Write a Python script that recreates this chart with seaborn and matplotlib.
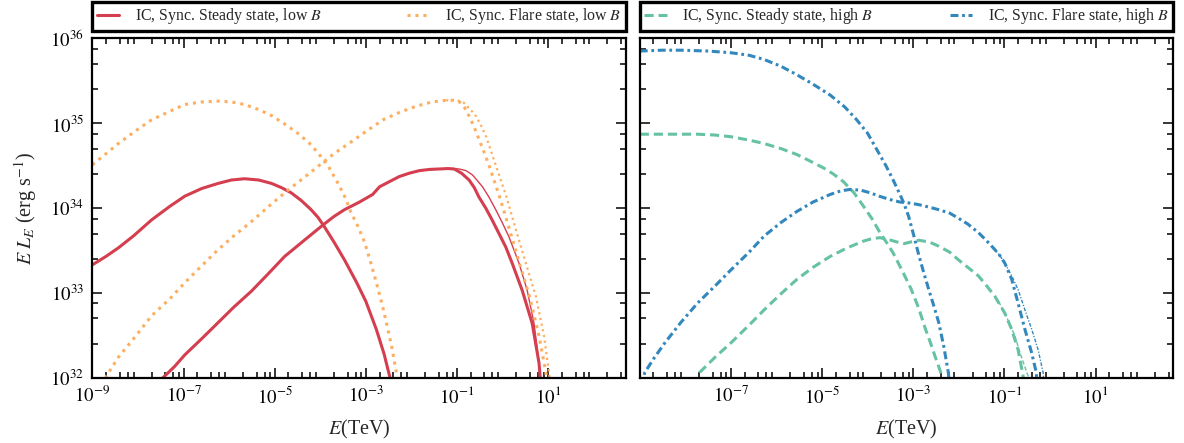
import numpy as np
import pandas as pd
import seaborn as sns
import matplotlib.pyplot as plt
from matplotlib.lines import Line2D
from matplotlib.ticker import LogLocator, NullFormatter

# Values: log10(E / TeV) and log10(E L_E / erg s^-1)

# left panel, low B
red_sync_logE = [-9.0, -8.7, -8.43, -8.1, -7.70, -7.3, -6.97, -6.6, -6.24, -5.95, -5.66, -5.35, -5.07, -4.85, -4.64,
                 -4.42, -4.20, -4.05, -3.91, -3.70, -3.47, -3.20, -3.00, -2.77, -2.60, -2.47, -2.44]
red_sync_logL = [33.33, 33.43, 33.53, 33.67, 33.86, 34.02, 34.14, 34.23, 34.29, 34.33, 34.345, 34.33, 34.29, 34.24, 34.18,
                 34.09, 33.98, 33.89, 33.78, 33.60, 33.39, 33.12, 32.90, 32.57, 32.28, 32.0, 31.9]

red_ic_logE = [-7.55, -7.45, -7.2, -6.97, -6.6, -6.24, -5.9, -5.51, -5.15, -4.78, -4.35, -3.94, -3.7, -3.47, -3.14, -2.85,
               -2.70, -2.45, -2.27, -2.05, -1.83, -1.6, -1.39, -1.2, -1.06, -0.9, -0.735, -0.62, -0.52, -0.37, -0.23,
               -0.08, 0.07, 0.21, 0.43, 0.65, 0.80, 0.84]
red_ic_logL = [31.9, 32.0, 32.13, 32.27, 32.46, 32.65, 32.83, 33.02, 33.22, 33.43, 33.62, 33.80, 33.90, 33.98, 34.07, 34.16,
               34.25, 34.32, 34.37, 34.41, 34.44, 34.455, 34.46, 34.465, 34.46, 34.41, 34.33, 34.24, 34.13, 34.0, 33.86,
               33.70, 33.54, 33.35, 33.03, 32.64, 32.17, 31.9]

red_ic_thin_logE = [-2.27, -1.83, -1.39, -1.1, -0.95, -0.8, -0.66, -0.44, -0.3, -0.15, 0.0, 0.14, 0.36, 0.54, 0.69, 0.80, 0.84]
red_ic_thin_logL = [34.37, 34.44, 34.46, 34.465, 34.46, 34.44, 34.39, 34.25, 34.13, 33.98, 33.82, 33.66, 33.35, 33.03, 32.64, 32.17, 31.9]

orange_sync_logE = [-9.0, -8.7, -8.43, -8.05, -7.70, -7.3, -6.97, -6.6, -6.24, -5.95, -5.66, -5.35, -5.07, -4.78, -4.49,
                    -4.25, -4.05, -3.82, -3.61, -3.45, -3.32, -3.17, -3.03, -2.9, -2.77, -2.65, -2.55, -2.43, -2.33, -2.30]
orange_sync_logL = [34.51, 34.64, 34.76, 34.91, 35.04, 35.14, 35.22, 35.25, 35.26, 35.25, 35.22, 35.16, 35.09, 34.99, 34.88,
                    34.77, 34.65, 34.49, 34.29, 34.12, 33.94, 33.78, 33.60, 33.37, 33.12, 32.88, 32.65, 32.36, 32.06, 31.9]

orange_ic_logE = [-8.75, -8.69, -8.43, -8.05, -7.70, -7.3, -6.97, -6.6, -6.24, -5.9, -5.51, -5.15, -4.78, -4.4, -4.05, -3.7,
                  -3.32, -2.95, -2.62, -2.25, -1.89, -1.55, -1.24, -1.08, -0.94, -0.83, -0.73, -0.62, -0.51, -0.40, -0.29,
                  -0.07, 0.15, 0.37, 0.59, 0.80, 0.95, 0.98]
orange_ic_logL = [31.9, 32.02, 32.24, 32.49, 32.73, 32.93, 33.12, 33.32, 33.51, 33.67, 33.84, 34.01, 34.18, 34.34, 34.49, 34.64,
                  34.78, 34.92, 35.04, 35.13, 35.20, 35.25, 35.27, 35.27, 35.25, 35.18, 35.08, 34.95, 34.80, 34.65, 34.49,
                  34.14, 33.75, 33.35, 32.96, 32.49, 32.06, 31.9]

orange_ic_thin_logE = [-1.24, -1.0, -0.85, -0.72, -0.58, -0.47, -0.36, -0.14, 0.08, 0.29, 0.51, 0.73, 0.91, 1.02, 1.05]
orange_ic_thin_logL = [35.27, 35.27, 35.24, 35.17, 35.08, 34.97, 34.84, 34.49, 34.14, 33.75, 33.35, 32.96, 32.49, 32.06, 31.9]

# right panel, high B
blue_sync_logE = [-9.0, -8.5, -8.09, -7.5, -7.0, -6.6, -6.27, -5.9, -5.55, -5.2, -4.82, -4.5, -4.24, -4.0, -3.80, -3.6,
                  -3.44, -3.30, -3.20, -3.10, -2.99, -2.88, -2.77, -2.66, -2.55, -2.44, -2.33, -2.23, -2.20]
blue_sync_logL = [35.85, 35.86, 35.86, 35.85, 35.83, 35.80, 35.75, 35.67, 35.57, 35.46, 35.33, 35.19, 35.04, 34.88, 34.69,
                  34.50, 34.33, 34.17, 34.05, 33.90, 33.68, 33.45, 33.24, 33.04, 32.85, 32.65, 32.37, 32.06, 31.9]

blue_ic_logE = [-8.95, -8.89, -8.7, -8.45, -8.1, -7.73, -7.35, -7.0, -6.6, -6.27, -5.9, -5.55, -5.2, -4.82, -4.6, -4.38,
                -4.15, -3.95, -3.75, -3.51, -3.29, -3.1, -2.88, -2.65, -2.44, -2.2, -2.01, -1.8, -1.57, -1.4, -1.21,
                -1.1, -0.99, -0.84, -0.70, -0.55, -0.40, -0.30, -0.28]
blue_ic_logL = [31.9, 32.06, 32.22, 32.41, 32.65, 32.88, 33.08, 33.27, 33.48, 33.67, 33.83, 33.96, 34.07, 34.16, 34.20, 34.22,
                34.21, 34.18, 34.14, 34.10, 34.07, 34.06, 34.04, 34.01, 33.98, 33.94, 33.88, 33.81, 33.71, 33.62, 33.51,
                33.44, 33.35, 33.16, 32.88, 32.57, 32.29, 32.06, 31.9]

blue_ic_thin_logE = [-1.21, -1.1, -0.99, -0.84, -0.70, -0.55, -0.40, -0.26, -0.15, -0.13]
blue_ic_thin_logL = [33.51, 33.44, 33.35, 33.20, 33.04, 32.80, 32.57, 32.33, 32.06, 31.9]

green_sync_logE = [-9.0, -8.3, -7.73, -7.35, -7.0, -6.6, -6.27, -5.9, -5.55, -5.25, -4.96, -4.75, -4.53, -4.3, -4.09, -3.9,
                   -3.73, -3.58, -3.44, -3.25, -3.05, -2.88, -2.73, -2.62, -2.52, -2.44, -2.37, -2.34]
green_sync_logL = [34.87, 34.87, 34.87, 34.86, 34.84, 34.80, 34.76, 34.70, 34.63, 34.55, 34.47, 34.40, 34.31, 34.18, 34.02, 33.87,
                   33.71, 33.59, 33.47, 33.27, 33.05, 32.82, 32.57, 32.41, 32.25, 32.13, 32.02, 31.9]

green_ic_logE = [-7.78, -7.69, -7.35, -7.0, -6.6, -6.27, -5.9, -5.55, -5.2, -4.82, -4.45, -4.09, -3.9, -3.73, -3.55, -3.36,
                 -3.2, -3.05, -2.88, -2.65, -2.44, -2.2, -2.01, -1.8, -1.57, -1.4, -1.21, -0.99, -0.84, -0.70, -0.59, -0.57]
green_ic_logL = [31.9, 32.06, 32.24, 32.41, 32.62, 32.80, 32.99, 33.16, 33.30, 33.43, 33.53, 33.61, 33.64, 33.65, 33.63, 33.60,
                 33.58, 33.60, 33.62, 33.60, 33.55, 33.48, 33.39, 33.30, 33.20, 33.09, 32.96, 32.76, 32.57, 32.33, 32.02, 31.9]

green_ic_thin_logE = [-1.21, -1.1, -0.99, -0.88, -0.77, -0.63, -0.48, -0.46]
green_ic_thin_logL = [32.96, 32.87, 32.76, 32.63, 32.49, 32.25, 32.02, 31.9]

x_tick_exps = [-9, -7, -5, -3, -1, 1]
y_tick_exps = [32, 33, 34, 35, 36]

RED = "#d53e4f"
ORANGE = "#fdae61"
GREEN = "#66c2a5"
BLUE = "#3288bd"

sns.set_style("ticks")
plt.rcParams["font.family"] = ["Liberation Serif", "DejaVu Serif"]
plt.rcParams["mathtext.fontset"] = "stix"
plt.rcParams["font.size"] = 12
plt.rcParams["axes.linewidth"] = 1.6
plt.rcParams["axes.edgecolor"] = "black"


def draw(ax, logE, logL, color, lw, ls):
    df = pd.DataFrame({"E": np.power(10.0, logE), "L": np.power(10.0, logL)})
    sns.lineplot(data=df, x="E", y="L", ax=ax, color=color, lw=lw,
                 linestyle=ls, sort=False, estimator=None)


fig, (ax_l, ax_r) = plt.subplots(1, 2, figsize=(11.84, 4.43), dpi=100)
fig.subplots_adjust(left=0.078, right=0.9907, bottom=0.1474, top=0.9135, wspace=0.0265)

dotted = (0, (1, 1.6))
dashed = (0, (3, 1.6))
dashdot = (0, (2.6, 1.2, 0.9, 1.2))

for ax in (ax_l, ax_r):
    ax.set_xscale("log")
    ax.set_yscale("log")

draw(ax_l, red_sync_logE, red_sync_logL, RED, 2.2, "-")
draw(ax_l, red_ic_logE, red_ic_logL, RED, 2.2, "-")
draw(ax_l, red_ic_thin_logE, red_ic_thin_logL, RED, 1.0, "-")
draw(ax_l, orange_sync_logE, orange_sync_logL, ORANGE, 2.2, dotted)
draw(ax_l, orange_ic_logE, orange_ic_logL, ORANGE, 2.2, dotted)
draw(ax_l, orange_ic_thin_logE, orange_ic_thin_logL, ORANGE, 1.6, dotted)

draw(ax_r, green_sync_logE, green_sync_logL, GREEN, 2.2, dashed)
draw(ax_r, green_ic_logE, green_ic_logL, GREEN, 2.2, dashed)
draw(ax_r, green_ic_thin_logE, green_ic_thin_logL, GREEN, 1.0, dashed)
draw(ax_r, blue_sync_logE, blue_sync_logL, BLUE, 2.2, dashdot)
draw(ax_r, blue_ic_logE, blue_ic_logL, BLUE, 2.2, dashdot)
draw(ax_r, blue_ic_thin_logE, blue_ic_thin_logL, BLUE, 1.0, dashdot)

x_ticks = [10.0 ** e for e in x_tick_exps]
x_labels = [r"$10^{%d}$" % e for e in x_tick_exps]
y_ticks = [10.0 ** e for e in y_tick_exps]
y_labels = [r"$10^{%d}$" % e for e in y_tick_exps]

for ax in (ax_l, ax_r):
    ax.set_xlim(1e-9, 5e2)
    ax.set_ylim(1e32, 1e36)
    ax.set_xticks(x_ticks)
    ax.set_yticks(y_ticks)
    ax.xaxis.set_minor_locator(LogLocator(base=10, subs=(2, 4, 6, 8), numticks=100))
    ax.yaxis.set_minor_locator(LogLocator(base=10, subs=(2.5, 5, 7.5), numticks=100))
    ax.xaxis.set_minor_formatter(NullFormatter())
    ax.yaxis.set_minor_formatter(NullFormatter())
    ax.tick_params(which="both", direction="in", top=True, right=True, width=1.1, colors="black")
    ax.tick_params(which="major", length=7.5, labelsize=13.5, pad=6)
    ax.tick_params(which="minor", length=4)
    ax.set_xlabel(r"$E$(TeV)", fontsize=14.5, labelpad=8)
    ax.set_ylabel("")

ax_l.set_xticklabels(x_labels)
ax_r.set_xticklabels([""] + x_labels[1:])
ax_l.set_yticklabels(y_labels)
ax_r.set_yticklabels([])
ax_l.set_ylabel(r"$E\;L_E$ (erg s$^{-1}$)", fontsize=14.5, labelpad=8)

legend_specs = [
    (ax_l, [("IC, Sync. Steady state, low $B$", RED, "-"),
            ("IC, Sync. Flare state, low $B$", ORANGE, dotted)]),
    (ax_r, [("IC, Sync. Steady state, high $B$", GREEN, dashed),
            ("IC, Sync. Flare state, high $B$", BLUE, dashdot)]),
]
for ax, items in legend_specs:
    handles = [Line2D([], [], color=c, lw=2.2, linestyle=s, label=t) for t, c, s in items]
    leg = ax.legend(handles=handles, loc="lower left", bbox_to_anchor=(0, 1.0215, 1, 0.08),
                    mode="expand", ncol=2, frameon=True, fancybox=False, edgecolor="black",
                    framealpha=1, handlelength=1.4, handletextpad=1.0, borderaxespad=0,
                    borderpad=0.3, fontsize=11.4)
    leg.get_frame().set_linewidth(2.4)

fig.savefig("out.png", dpi=100)
